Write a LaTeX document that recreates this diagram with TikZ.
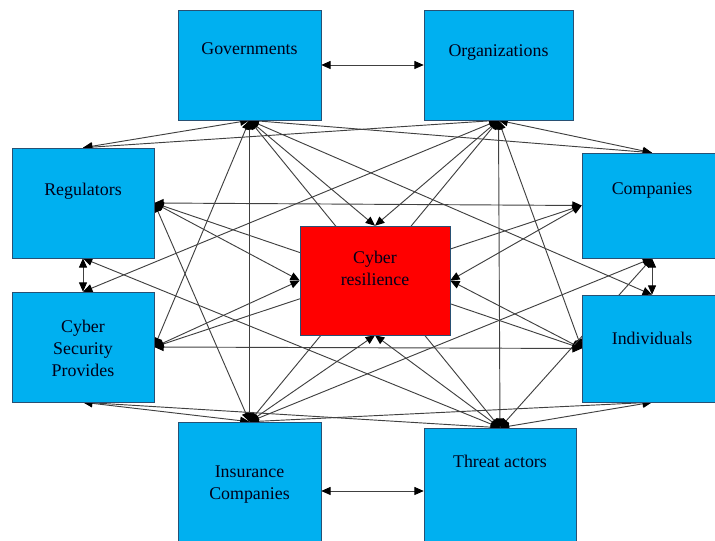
\documentclass[tikz,border=0pt]{standalone}
\usepackage{fontspec}
\setmainfont{Liberation Serif}
\usetikzlibrary{positioning, arrows.meta, backgrounds}
\definecolor{boxblue}{RGB}{0,176,240}
\definecolor{boxedge}{RGB}{40,80,115}

\begin{document}
\begin{tikzpicture}[
    x=0.75pt, y=-0.75pt,
    every node/.style={
        rectangle,
        draw=boxedge,
        fill=boxblue,
        inner sep=0pt,
        font=\fontsize{13.4}{16.5}\selectfont
    },
    title/.style={draw=none, fill=none, anchor=center, align=center, text=black!90!blue},
    edge/.style={draw=black!75, line width=0.7pt,
        {Triangle[length=7pt,width=6pt,color=black]}-{Triangle[length=7pt,width=6pt,color=black]}}
]

\useasboundingbox (0,0) rectangle (715,541);

\node (gov) [minimum width=107.25pt, minimum height=82.5pt,
    label={[title, yshift=-29.25pt]north:Governments}] at (249.5,65) {};
\node (org) [minimum width=111.75pt, minimum height=82.5pt,
    label={[title, yshift=-32.25pt]north:Organizations}] at (498.5,65) {};

\node (reg) [minimum width=106.5pt, minimum height=82.5pt,
    label={[title, yshift=-33pt]north:Regulators}] at (83,203) {};
\node (csp) [minimum width=106.5pt, minimum height=82.5pt,
    label={[title, yshift=-42.75pt]north:Cyber\\Security\\Provides}] at (83,347) {};

\node (comp) [minimum width=105pt, minimum height=78.75pt,
    label={[title, yshift=-28.5pt]north:Companies}] at (652,205.5) {};
\node (ind) [minimum width=105pt, minimum height=80.25pt,
    label={[title, yshift=-33pt]north:Individuals}] at (652,348.5) {};

\node (res) [fill=red, minimum width=112.5pt, minimum height=81.75pt,
    label={[title, yshift=-32.25pt]north:Cyber\\resilience}] at (375,280.5) {};

\node (ins) [minimum width=107.25pt, minimum height=103.5pt,
    label={[title, yshift=-47.25pt]north:Insurance\\Companies}] at (249.5,491) {};
\node (thr) [minimum width=114pt, minimum height=99pt,
    label={[title, yshift=-25.5pt]north:Threat actors}] at (500,494) {};

\begin{scope}[on background layer]
\draw[edge] (gov.south) -- (res.north);
\draw[edge] (org.south) -- (res.north);
\draw[edge] (reg.east) -- (res.west);
\draw[edge] (csp.east) -- (res.west);
\draw[edge] (comp.west) -- (res.east);
\draw[edge] (ind.west) -- (res.east);
\draw[edge] (ins.north) -- (res.south);
\draw[edge] (thr.north) -- (res.south);

\draw[edge] (gov.east) -- (org.west);
\draw[edge] (gov.south) -- (reg.north);
\draw[edge] (gov.south) -- (comp.north);
\draw[edge] (gov.south) -- (csp.east);
\draw[edge] (gov.south) -- (ind.north);
\draw[edge] (gov.south) -- (ins.north);
\draw[edge] (gov.south) -- (thr.north);

\draw[edge] (org.south) -- (reg.north);
\draw[edge] (org.south) -- (comp.north);
\draw[edge] (org.south) -- (csp.north);
\draw[edge] (org.south) -- (ind.west);
\draw[edge] (org.south) -- (ins.north);
\draw[edge] (org.south) -- (thr.north);

\draw[edge] (reg.east) -- (comp.west);
\draw[edge] (reg.south) -- (csp.north);
\draw[edge] (reg.east) -- (ind.west);
\draw[edge] (reg.east) -- (ins.north);
\draw[edge] (reg.south) -- (thr.north);

\draw[edge] (comp.west) -- (csp.east);
\draw[edge] (comp.south) -- (ind.north);
\draw[edge] (comp.south) -- (ins.north);
\draw[edge] (comp.south) -- (thr.north);

\draw[edge] (csp.east) -- (ind.west);
\draw[edge] (csp.south) -- (ins.north);
\draw[edge] (csp.south) -- (thr.north);

\draw[edge] (ind.south) -- (ins.north);
\draw[edge] (ind.south) -- (thr.north);

\draw[edge] (ins.east) -- (ins.east -| thr.west);
\end{scope}

\end{tikzpicture}
\end{document}
